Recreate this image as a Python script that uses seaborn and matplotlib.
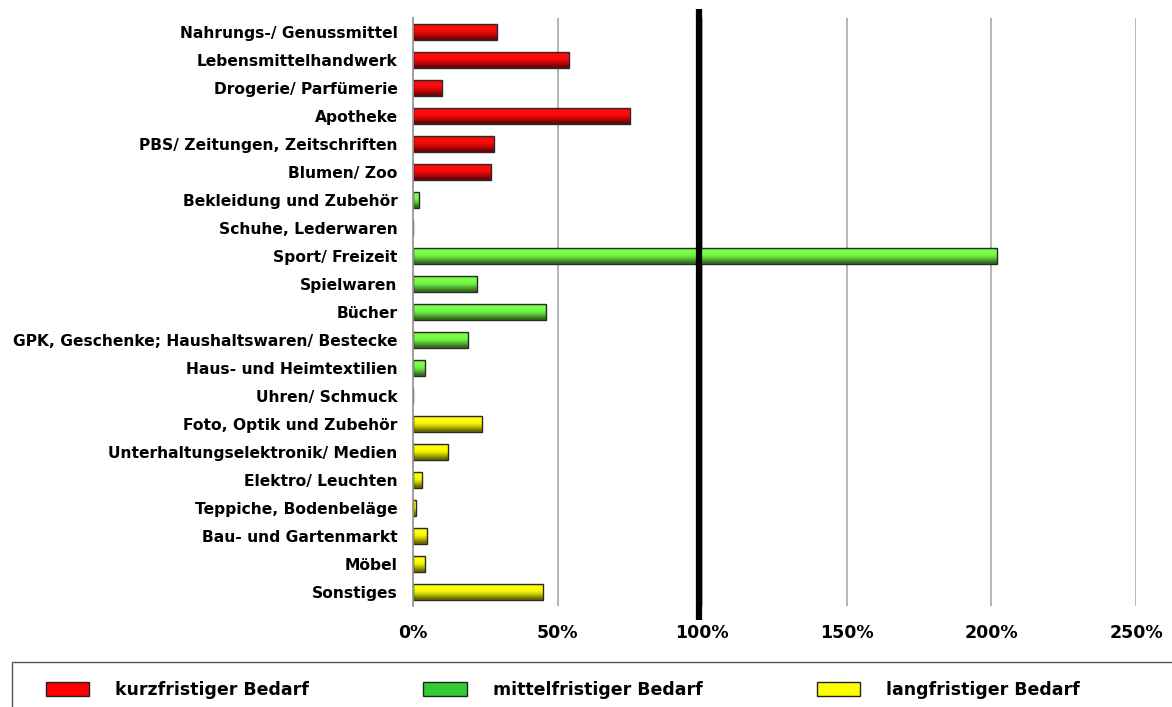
import numpy as np
import pandas as pd
import matplotlib
matplotlib.use("Agg")
import matplotlib.pyplot as plt
import matplotlib.colors as mcolors
import seaborn as sns
from matplotlib.patches import Patch, Rectangle

categories = [
    "Nahrungs-/ Genussmittel", "Lebensmittelhandwerk", "Drogerie/ Parfümerie",
    "Apotheke", "PBS/ Zeitungen, Zeitschriften", "Blumen/ Zoo",
    "Bekleidung und Zubehör", "Schuhe, Lederwaren", "Sport/ Freizeit",
    "Spielwaren", "Bücher", "GPK, Geschenke; Haushaltswaren/ Bestecke",
    "Haus- und Heimtextilien", "Uhren/ Schmuck", "Foto, Optik und Zubehör",
    "Unterhaltungselektronik/ Medien", "Elektro/ Leuchten",
    "Teppiche, Bodenbeläge", "Bau- und Gartenmarkt", "Möbel", "Sonstiges",
]
values = [29, 54, 10, 75, 28, 27, 2, 0, 202, 22, 46, 19, 4, 0, 24, 12, 3, 1, 5, 4, 45]
groups = (["kurzfristiger Bedarf"] * 6 + ["mittelfristiger Bedarf"] * 8
          + ["langfristiger Bedarf"] * 7)
group_names = ["kurzfristiger Bedarf", "mittelfristiger Bedarf", "langfristiger Bedarf"]
bar_colors = {"kurzfristiger Bedarf": "#FF0A0A",
              "mittelfristiger Bedarf": "#78FF46",
              "langfristiger Bedarf": "#FFFF00"}
legend_colors = ["#FF0000", "#33CC33", "#FFFF00"]
xticks = [0, 50, 100, 150, 200, 250]
ref_line = 99

df = pd.DataFrame({"Branche": categories, "Wert": values, "Gruppe": groups})

sns.set_style("white")
plt.rcParams['font.family'] = ['DejaVu Sans']
plt.rcParams['font.weight'] = 'bold'
plt.rcParams['text.color'] = 'black'
plt.rcParams['xtick.color'] = 'black'
plt.rcParams['ytick.color'] = 'black'

fig = plt.figure(figsize=(11.72, 7.07), dpi=100)
ax = fig.add_axes([413 / 1172, 1 - 606 / 707, (1136 - 413) / 1172, (606 - 18) / 707])

sns.barplot(data=df, x="Wert", y="Branche", hue="Gruppe", hue_order=group_names,
            palette=bar_colors, saturation=1, dodge=False, orient="h", width=0.6,
            edgecolor="#2a2a2a", linewidth=1.0, legend=False, ax=ax)

# give the bars the shaded look of the original (dark towards the bottom edge)
for p in list(ax.patches):
    if p.get_width() <= 0:
        continue
    base = np.array(mcolors.to_rgb(p.get_facecolor()))
    shade = np.array([0.9, 1.0, 1.0, 0.95, 0.8, 0.6, 0.42])
    grad = np.clip(base[None, :] * shade[:, None], 0, 1)[:, None, :]
    x0, y0 = p.get_x(), p.get_y()
    x1, y1 = x0 + p.get_width(), y0 + p.get_height()
    im = ax.imshow(grad, extent=(x0, x1, y1, y0), aspect="auto",
                   interpolation="bilinear", zorder=p.get_zorder(), origin="upper")
    im.set_clip_path(p)
    p.set_facecolor("none")
    p.set_zorder(p.get_zorder() + 0.1)

ax.axvline(ref_line, color="black", linewidth=4.5, ymin=-0.024, ymax=1.015,
           clip_on=False, zorder=5, solid_capstyle="butt")

ax.set_xlim(0, 250)
ax.set_ylim(len(categories) - 0.5, -0.5)
ax.set_aspect("auto")
ax.set_xticks(xticks)
ax.set_xticklabels([f"{t}%" for t in xticks], fontsize=12.5, fontweight="bold")
ax.tick_params(axis="y", which="major", labelsize=11.2, length=0, pad=11, labelcolor="black")
ax.tick_params(axis="x", length=0, pad=13, labelcolor="black")
for lab in ax.get_yticklabels():
    lab.set_fontweight("bold")
ax.set_xlabel("")
ax.set_ylabel("")
ax.xaxis.grid(True, color="#B0B0B0", linewidth=1.3)
ax.set_axisbelow(True)
for s in ["top", "right", "bottom"]:
    ax.spines[s].set_visible(False)
ax.spines["left"].set_color("#999999")
ax.spines["left"].set_linewidth(1.3)
# small ticks between categories on the left
ax.set_yticks(np.arange(len(categories)) + 0.5, minor=True)
ax.tick_params(axis="y", which="minor", length=4, color="#999999", direction="out")

# legend box along the bottom edge
fig.patches.append(Rectangle((12 / 1172, -0.05), 1.1, (0.05 + 1 - 662 / 707),
                             transform=fig.transFigure, facecolor="white",
                             edgecolor="#555555", linewidth=1.0))
handles = [Patch(facecolor=c, edgecolor="#222222", label=g) for c, g in zip(legend_colors, group_names)]
leg = fig.legend(handles=handles, loc="upper left", ncol=3, mode="expand",
                 bbox_to_anchor=(46 / 1172, 1 - 681 / 707, (1080 - 46) / 1172, 0),
                 frameon=False, handlelength=2.5, handleheight=0.85,
                 handletextpad=1.5, prop={"size": 12.5, "weight": "bold"},
                 borderaxespad=0, borderpad=0)

fig.savefig("out.png", dpi=100)
